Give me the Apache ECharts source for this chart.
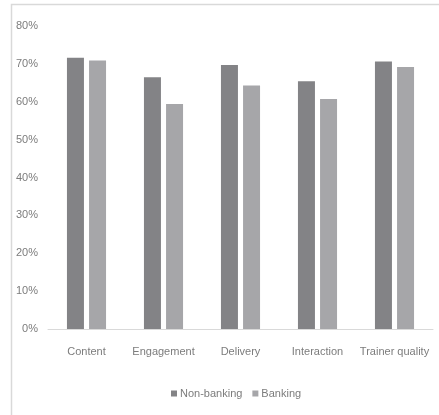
<!DOCTYPE html>
<html>
<head>
<meta charset="utf-8">
<script src="https://cdn.jsdelivr.net/npm/echarts@6/dist/echarts.min.js"></script>
<style>
  html, body { margin: 0; padding: 0; background: #fff; }
  #chart { width: 439px; height: 415px; }
</style>
</head>
<body>
<div id="chart"></div>
<script>
// Training evaluation scores by dimension, non-banking vs banking sector
const categories = ['Content', 'Engagement', 'Delivery', 'Interaction', 'Trainer quality'];
const nonBanking = [71.6, 66.5, 69.7, 65.4, 70.6];
const banking = [70.9, 59.4, 64.3, 60.7, 69.2];
const seriesNames = ['Non-banking', 'Banking'];

const FONT = '"Liberation Sans", Arial, sans-serif';
const TEXT = '#7c7c7c';

const chart = echarts.init(document.getElementById('chart'), null, { renderer: 'canvas' });
chart.setOption({
  backgroundColor: '#fff',
  animation: false,
  textStyle: { fontFamily: FONT },
  graphic: [{
    type: 'rect',
    shape: { x: 11.5, y: 4.5, width: 440, height: 420 },
    style: { fill: 'none', stroke: '#d9d9d9', lineWidth: 1.5 },
    silent: true
  }],
  grid: { left: 48, right: 6, top: 26, bottom: 86 },
  legend: {
    data: seriesNames,
    left: 166,
    top: 383,
    itemWidth: 6,
    itemHeight: 6,
    itemGap: 10,
    icon: 'rect',
    textStyle: { color: TEXT, fontSize: 11, fontFamily: FONT, padding: [0, 0, 0, -2] }
  },
  xAxis: {
    type: 'category',
    data: categories,
    axisLine: { lineStyle: { color: '#d9d9d9', width: 1 } },
    axisTick: { show: false },
    axisLabel: { color: TEXT, fontSize: 11, fontFamily: FONT, margin: 17, interval: 0 }
  },
  yAxis: {
    type: 'value',
    min: 0,
    max: 80,
    interval: 10,
    axisLine: { show: false },
    axisTick: { show: false },
    splitLine: { show: false },
    axisLabel: { color: TEXT, fontSize: 11, fontFamily: FONT, margin: 10, formatter: '{value}%' }
  },
  series: [
    {
      name: seriesNames[0],
      type: 'bar',
      data: nonBanking,
      barWidth: 17,
      barGap: '30%',
      itemStyle: { color: '#838386' }
    },
    {
      name: seriesNames[1],
      type: 'bar',
      data: banking,
      barWidth: 17,
      itemStyle: { color: '#a6a6a9' }
    }
  ]
});
</script>
</body>
</html>
